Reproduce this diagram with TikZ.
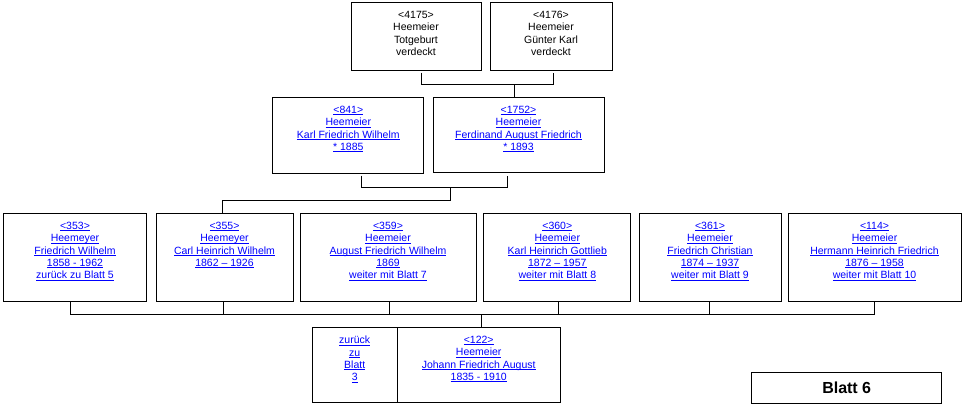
\documentclass[tikz,border=0pt]{standalone}
\usepackage{fontspec}
\setmainfont{Liberation Sans}
\usepackage{xcolor}
\usetikzlibrary{positioning}
\newcommand{\lnk}[1]{\setbox0\hbox{#1}\rlap{\rule[-1.6pt]{\wd0}{0.8pt}}\box0}

\begin{document}
\begin{tikzpicture}[x=1pt, y=-1pt,
				line width=1pt,
				box/.style={draw, inner sep=0pt},
				info/.style={anchor=north, yshift=-6pt, align=center,
					font=\fontsize{10.5}{12.3}\selectfont},
				link/.style={info, text=blue}]
				\useasboundingbox (0,0) rectangle (964,407);
				% grandparents
				\node at (416,36) (p4175) [box, minimum width=130pt, minimum height=68pt,
					label={[info]north:{<4175>\\Heemeier\\Totgeburt\\verdeckt}}] {};
				\node at (551,36) (p4176) [box, minimum width=122pt, minimum height=68pt,
					label={[info]north:{<4176>\\Heemeier\\Günter Karl\\verdeckt}}] {};
				% parents
				\node at (348.3,135) (p841) [box, minimum width=151.3pt, minimum height=76pt,
					label={[link]north:{\lnk{<841>}\\\lnk{Heemeier}\\\lnk{Karl Friedrich Wilhelm}\\\lnk{* 1885}}}] {};
				\node at (518.5,134.5) (p1752) [box, minimum width=171pt, minimum height=75pt,
					label={[link]north:{\lnk{<1752>}\\\lnk{Heemeier}\\\lnk{Ferdinand August Friedrich}\\\lnk{* 1893}}}] {};
				% children
				\node at (75,257) (p353) [box, minimum width=143.4pt, minimum height=88pt,
					label={[link]north:{\lnk{<353>}\\\lnk{Heemeyer}\\\lnk{Friedrich Wilhelm}\\\lnk{1858 - 1962}\\\lnk{zurück zu Blatt 5}}}] {};
				\node at (224.5,257) (p355) [box, minimum width=137pt, minimum height=88pt,
					label={[link]north:{\lnk{<355>}\\\lnk{Heemeyer}\\\lnk{Carl Heinrich Wilhelm}\\\lnk{1862 -- 1926}}}] {};
				\node at (388,257) (p359) [box, minimum width=176pt, minimum height=88pt,
					label={[link]north:{\lnk{<359>}\\\lnk{Heemeier}\\\lnk{August Friedrich Wilhelm}\\\lnk{1869}\\\lnk{weiter mit Blatt 7}}}] {};
				\node at (557.3,257) (p360) [box, minimum width=146.7pt, minimum height=88pt,
					label={[link]north:{\lnk{<360>}\\\lnk{Heemeier}\\\lnk{Karl Heinrich Gottlieb}\\\lnk{1872 -- 1957}\\\lnk{weiter mit Blatt 8}}}] {};
				\node at (710,257) (p361) [box, minimum width=142pt, minimum height=88pt,
					label={[link]north:{\lnk{<361>}\\\lnk{Heemeier}\\\lnk{Friedrich Christian}\\\lnk{1874 -- 1937}\\\lnk{weiter mit Blatt 9}}}] {};
				\node at (874.5,257) (p114) [box, minimum width=173pt, minimum height=88pt,
					label={[link]north:{\lnk{<114>}\\\lnk{Heemeier}\\\lnk{Hermann Heinrich Friedrich}\\\lnk{1876 -- 1958}\\\lnk{weiter mit Blatt 10}}}] {};
				% father
				\node at (354.7,364.5) (back) [box, minimum width=84.7pt, minimum height=75pt,
					label={[link]north:{\lnk{zurück}\\\lnk{zu}\\\lnk{Blatt}\\\lnk{3}}}] {};
				\node at (478.7,364.5) (p122) [box, minimum width=163.3pt, minimum height=75pt,
					label={[link]north:{\lnk{<122>}\\\lnk{Heemeier}\\\lnk{Johann Friedrich August}\\\lnk{1835 - 1910}}}] {};
				\node at (846.7,387.7) (sheet) [box, minimum width=190pt, minimum height=30.7pt,
					font=\fontsize{16}{18}\selectfont\bfseries] {Blatt 6};
				% lines
				\draw ([xshift=5.7pt,yshift=-2pt]p4175.south) -- ++(0,12) -| ([xshift=2.7pt,yshift=-2pt]p4176.south);
				\coordinate (j1) at (514,84);
				\draw (j1) -- (j1 |- p1752.north);
				\draw ([xshift=13.4pt,yshift=-2pt]p841.south) -- ++(0,12) -| ([xshift=-11.2pt,yshift=-3pt]p1752.south);
				\coordinate (j2) at (450.7,187);
				\draw (j2) -- ++(0,13) -| ([xshift=-2.2pt]p355.north);
				\draw ([xshift=-4.3pt]p353.south) -- ++(0,13) -| (p114.south);
				\foreach \p/\dx in {p355/-1.5, p359/1.3, p360/0.7, p361/-1}
					\draw ([xshift=\dx pt]\p.south) -- ++(0,13);
				\draw ([xshift=3pt]p122.north) -- ++(0,-13);
			\end{tikzpicture}
\end{document}
